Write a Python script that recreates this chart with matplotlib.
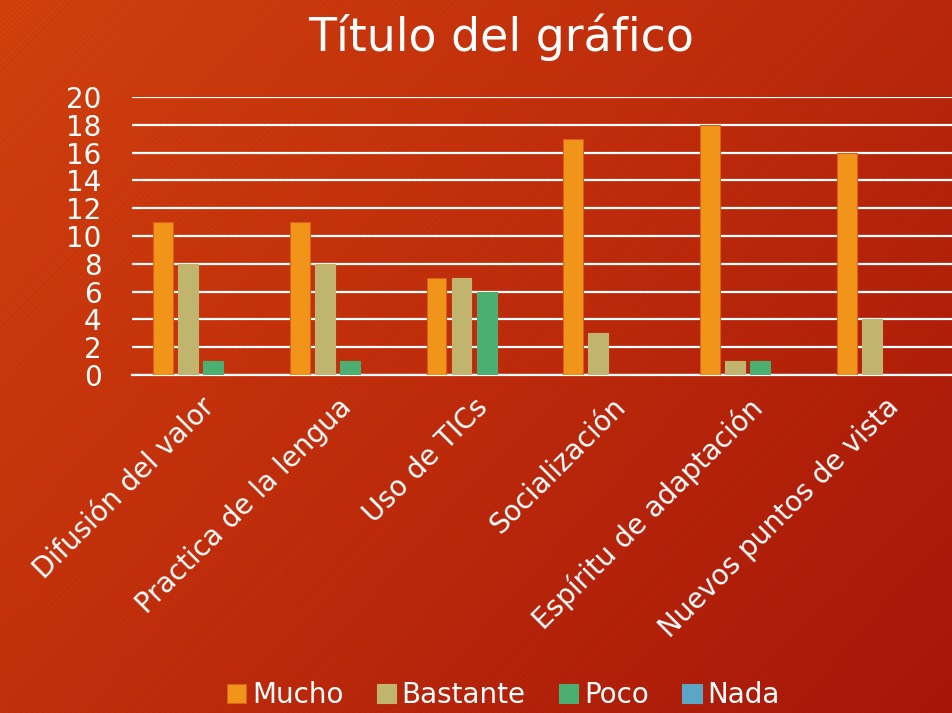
import numpy as np
import matplotlib.pyplot as plt
from matplotlib.colors import LinearSegmentedColormap
from matplotlib.patches import Rectangle

categorias = ['Difusión del valor', 'Practica de la lengua', 'Uso de TICs',
              'Socialización', 'Espíritu de adaptación', 'Nuevos puntos de vista']
series = ['Mucho', 'Bastante', 'Poco', 'Nada']
mucho = [11, 11, 7, 17, 18, 16]
bastante = [8, 8, 7, 3, 1, 4]
poco = [1, 1, 6, 0, 1, 0]
nada = [0, 0, 0, 0, 0, 0]
colores = ['#F0951A', '#C0B46E', '#4BAF72', '#5AA6C4']

fig = plt.figure(figsize=(9.53, 7.13), dpi=100)

# fondo degradado
bg = fig.add_axes([0, 0, 1, 1], zorder=-10)
gx, gy = np.meshgrid(np.linspace(0, 1, 300), np.linspace(0, 1, 300))
grad = (gx * 0.6 + gy * 0.4)
cmap_bg = LinearSegmentedColormap.from_list('bg', ['#D4420E', '#C02D0C', '#A8170A'])
bg.imshow(grad, cmap=cmap_bg, extent=[0, 1, 0, 1], aspect='auto', origin='upper')
plt.rcParams['hatch.linewidth'] = 1.5
bg.add_patch(Rectangle((0, 0), 1, 1, facecolor='none', edgecolor=(0.45, 0.05, 0, 0.06),
                       hatch='//////', lw=0))
bg.set_xlim(0, 1)
bg.set_ylim(0, 1)
bg.axis('off')

ax = fig.add_axes([0.1385, 0.474, 0.8615, 0.39])
ax.patch.set_alpha(0)

x = np.arange(len(categorias))
w = 0.145
paso = 0.183
for i, (nombre, vals) in enumerate(zip(series, [mucho, bastante, poco, nada])):
    ax.bar(x + (i - 1.5) * paso, vals, width=w, color=colores[i], label=nombre,
           edgecolor='#D9601A' if i == 0 else colores[i], lw=0.8, zorder=3)

ax.set_xlim(-0.5, len(categorias) - 0.5)
ax.set_ylim(0, 20)
ax.set_yticks(range(0, 21, 2))
ax.grid(axis='y', color='white', lw=1.6, zorder=1)
for s in ['top', 'right', 'left']:
    ax.spines[s].set_visible(False)
ax.spines['bottom'].set_color('white')
ax.spines['bottom'].set_linewidth(1.6)
ax.tick_params(axis='y', length=0, pad=22, labelsize=20, labelcolor='white')
ax.tick_params(axis='x', length=0, pad=13, labelsize=20, labelcolor='white')
ax.set_xticks(x)
ax.set_xticklabels(categorias, rotation=45, ha='right', va='top', rotation_mode='anchor')

fig.text(0.526, 0.928, 'Título del gráfico', ha='center', va='baseline', color='white', fontsize=33)

leg = fig.legend(loc='center', bbox_to_anchor=(0.528, 0.025), ncol=4, frameon=False,
                 fontsize=20, labelcolor='white', handlelength=0.7, handleheight=0.7,
                 handletextpad=0.2, columnspacing=1.2)

fig.savefig('out.png', dpi=100)
